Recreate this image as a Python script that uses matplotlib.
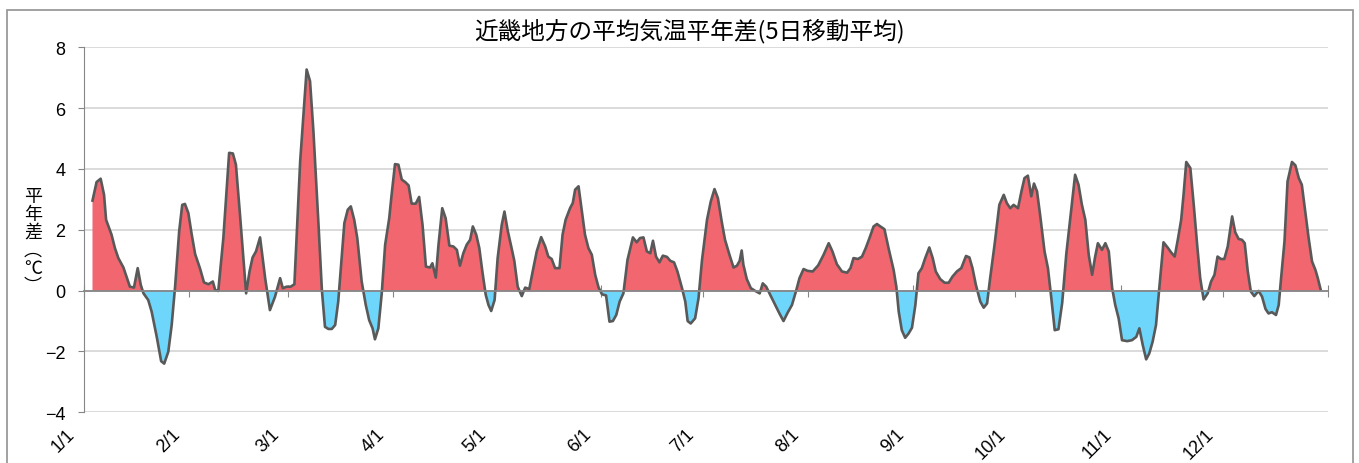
import matplotlib.pyplot as plt
import numpy as np
from matplotlib.patches import Rectangle
from matplotlib.transforms import ScaledTranslation

plt.rcParams['font.family'] = ['Liberation Sans', 'Noto Sans CJK JP', 'DejaVu Sans']

# 5-day running mean of the temperature anomaly, Kinki region (leap year)
# day = day-of-year index (0 = 1/1), anomaly in degC
day = [
    2.0, 3.2, 4.4, 5.4, 6.0, 7.6, 8.6, 9.6, 11.1, 13.0, 14.2, 15.3, 16.2, 17.0,
    18.4, 19.4, 20.9, 22.2, 23.1, 24.3, 25.3, 26.3, 27.5, 28.4, 29.2, 30.2,
    31.2, 32.2, 33.6, 34.8, 36.1, 37.4, 38.1, 39.0, 40.5, 42.2, 43.3, 44.2,
    45.4, 47.2, 48.2, 49.1, 50.1, 51.3, 52.8, 54.2, 55.7, 57.2, 58.0, 59.1,
    60.3, 61.4, 63.1, 65.0, 66.0, 67.0, 68.5, 69.5, 70.4, 71.4, 72.4, 73.4,
    74.3, 75.3, 76.1, 77.1, 78.0, 79.0, 79.9, 81.2, 82.4, 83.4, 84.4, 85.1,
    86.1, 87.1, 88.1, 89.3, 90.0, 91.0, 92.0, 93.0, 94.0, 95.0, 95.9, 97.1,
    98.1, 99.1, 100.1, 101.3, 102.0, 103.0, 103.8, 104.9, 105.9, 107.0, 108.2,
    109.2, 110.1, 111.1, 112.1, 113.1, 113.9, 114.9, 115.8, 116.7, 117.7,
    118.5, 119.3, 120.3, 121.2, 122.4, 123.2, 124.2, 125.2, 126.1, 127.1,
    128.3, 129.3, 130.5, 131.4, 132.7, 134.0, 135.2, 136.1, 137.1, 138.1,
    139.4, 140.3, 141.2, 142.5, 143.3, 144.0, 145.0, 146.0, 146.9, 147.9,
    148.9, 149.9, 150.9, 151.9, 153.1, 154.1, 155.1, 156.1, 157.1, 158.2,
    159.4, 161.0, 162.1, 163.1, 164.1, 165.1, 166.1, 166.9, 167.8, 168.8,
    169.8, 171.0, 172.0, 173.1, 174.1, 175.4, 176.4, 177.1, 178.0, 179.3,
    180.3, 181.3, 182.8, 183.9, 185.0, 186.0, 187.2, 188.1, 189.4, 190.6,
    191.6, 192.4, 193.0, 193.5, 194.5, 195.7, 197.0, 198.3, 199.2, 200.2,
    201.4, 202.9, 204.1, 205.3, 206.5, 207.8, 209.0, 210.0, 211.2, 212.4,
    213.9, 215.5, 217.1, 218.6, 219.7, 221.0, 222.5, 224.0, 225.0, 225.9,
    227.2, 228.4, 229.5, 230.6, 231.8, 232.8, 233.8, 235.0, 236.2, 237.7,
    238.5, 239.2, 240.1, 241.1, 242.1, 243.1, 244.1, 245.0, 246.0, 247.0,
    248.2, 249.2, 250.1, 251.4, 252.7, 253.9, 255.0, 256.3, 257.6, 259.0,
    260.0, 260.9, 261.9, 263.2, 264.2, 265.2, 266.1, 267.4, 268.8, 270.1,
    271.0, 272.0, 273.0, 274.3, 275.3, 276.2, 277.2, 278.2, 279.0, 279.9,
    280.8, 282.1, 283.1, 284.1, 285.1, 286.2, 287.3, 288.5, 289.9, 291.1,
    292.1, 293.1, 294.1, 295.1, 296.1, 297.0, 297.8, 299.0, 300.0, 301.0,
    302.0, 302.9, 303.9, 304.9, 306.4, 307.8, 309.1, 310.0, 311.0, 312.0,
    312.9, 313.9, 314.9, 315.9, 317.1, 318.3, 319.4, 320.4, 321.4, 322.3,
    323.0, 323.8, 325.0, 326.0, 327.0, 327.9, 328.9, 330.1, 331.1, 332.1,
    333.0, 334.0, 335.0, 336.0, 337.3, 338.2, 339.2, 340.2, 341.0, 341.9,
    342.8, 343.8, 345.1, 346.1, 347.1, 348.0, 349.0, 350.2, 351.0, 351.7,
    352.7, 353.6, 354.9, 355.9, 356.9, 357.8, 358.8, 359.8, 360.8, 361.8,
    362.5, 363.3,
]
anomaly = [
    2.96, 3.57, 3.68, 3.15, 2.33, 1.84, 1.40, 1.07, 0.76, 0.13, 0.10, 0.74, 0.19, -0.09,
    -0.31, -0.69, -1.52, -2.32, -2.40, -2.01, -1.13, 0.13, 1.95, 2.82, 2.85, 2.55,
    1.84, 1.20, 0.74, 0.27, 0.21, 0.30, 0.02, -0.01, 1.73, 4.53, 4.51, 4.14,
    2.49, -0.09, 0.63, 1.09, 1.29, 1.75, 0.41, -0.64, -0.20, 0.41, 0.08, 0.13,
    0.13, 0.21, 4.25, 7.27, 6.89, 5.24, 2.16, 0.00, -1.19, -1.26, -1.26, -1.13,
    -0.36, 1.07, 2.22, 2.66, 2.77, 2.33, 1.73, 0.30, -0.47, -0.97, -1.24, -1.60,
    -1.24, -0.09, 1.51, 2.38, 3.15, 4.16, 4.14, 3.65, 3.57, 3.46, 2.86, 2.86,
    3.08, 2.16, 0.79, 0.76, 0.90, 0.43, 1.51, 2.71, 2.38, 1.48, 1.45,
    1.34, 0.82, 1.23, 1.51, 1.67, 2.11, 1.84, 1.40, 0.63, -0.14,
    -0.47, -0.67, -0.31, 1.07, 2.16, 2.60, 1.95, 1.45, 0.98, 0.13,
    -0.18, 0.10, 0.05, 0.57, 1.29, 1.76, 1.45, 1.12, 1.04, 0.74,
    0.74, 1.84, 2.33, 2.71, 2.88, 3.32, 3.43, 2.60, 1.84, 1.40,
    1.18, 0.52, 0.10, -0.12, -0.16, -1.02, -1.00, -0.80, -0.36, -0.09,
    1.01, 1.75, 1.59, 1.73, 1.75, 1.29, 1.23, 1.64, 1.12, 0.93,
    1.15, 1.11, 0.98, 0.93, 0.63, 0.10, -0.36, -1.00, -1.08, -0.91,
    -0.25, 0.98, 2.33, 2.93, 3.34, 3.04, 2.22, 1.67, 1.18, 0.76,
    0.82, 0.98, 1.32, 0.85, 0.38, 0.08, -0.01, -0.09, 0.24, 0.13,
    -0.14, -0.47, -0.75, -1.00, -0.73, -0.47, -0.01, 0.41, 0.71, 0.65,
    0.63, 0.83, 1.18, 1.56, 1.29, 0.87, 0.63, 0.59, 0.74, 1.07,
    1.04, 1.12, 1.40, 1.73, 2.11, 2.19, 2.11, 2.02, 1.40, 0.68,
    0.13, -0.69, -1.30, -1.55, -1.41, -1.22, -0.47, 0.57, 0.74, 1.07,
    1.42, 1.07, 0.63, 0.38, 0.26, 0.26, 0.46, 0.63, 0.74, 1.14,
    1.09, 0.74, 0.19, -0.36, -0.56, -0.42, 0.41, 1.51, 2.82, 3.15,
    2.88, 2.71, 2.82, 2.71, 3.26, 3.70, 3.78, 3.10, 3.52, 3.26,
    2.49, 1.29, 0.74, -0.25, -1.30, -1.27, -0.40, 1.20, 2.60, 3.81,
    3.48, 2.82, 2.33, 1.18, 0.52, 1.12, 1.56, 1.34, 1.56, 1.29,
    0.08, -0.47, -0.91, -1.63, -1.66, -1.63, -1.52, -1.24, -1.79, -2.26,
    -2.07, -1.68, -1.13, 0.13, 1.59, 1.42, 1.25, 1.12, 1.73, 2.33,
    3.15, 4.23, 4.03, 2.82, 1.51, 0.41, -0.29, -0.09, 0.30, 0.52,
    1.12, 1.04, 1.04, 1.45, 2.44, 1.92, 1.70, 1.67, 1.56, 0.63,
    -0.03, -0.18, -0.01, -0.20, -0.60, -0.75, -0.71, -0.80, -0.47, 0.41,
    1.62, 3.59, 4.23, 4.12, 3.70, 3.48, 2.60, 1.73, 0.96, 0.68,
    0.41, 0.05,
]

month_start = [0, 31, 60, 91, 121, 152, 182, 213, 244, 274, 305, 335]
year_end = 366
month_labels = ['1/1', '2/1', '3/1', '4/1', '5/1', '6/1',
                '7/1', '8/1', '9/1', '10/1', '11/1', '12/1']
y_ticks = [-4, -2, 0, 2, 4, 6, 8]

title = '近畿地方の平均気温平年差(5日移動平均)'
ylabel = '平\n年\n差\n︵\n℃\n︶'

W, H = 1359, 464
fig = plt.figure(figsize=(W / 100, H / 100), dpi=100)
ax = fig.add_axes([84 / W, 1 - 413.3 / H, (1328 - 84) / W, (413.3 - 48.3) / H])

# each day sits in the middle of its slot
x = np.array(day) + 0.5
y = np.array(anomaly)
ax.fill_between(x, y, 0, where=y >= 0, interpolate=True, color='#F1666F', lw=0)
ax.fill_between(x, y, 0, where=y <= 0, interpolate=True, color='#6ED5FB', lw=0)
ax.plot(x, y, color='#595959', lw=1.9, solid_joinstyle='round')

ax.set_xlim(0, year_end)
ax.set_ylim(-4, 8)
ax.set_yticks(y_ticks)
ax.grid(axis='y', color='#D4D4D4', lw=1.2)
ax.set_axisbelow(True)

for side in ['top', 'right']:
    ax.spines[side].set_visible(False)
ax.spines['left'].set_color('#868686')
ax.spines['bottom'].set_position(('data', 0))
ax.spines['bottom'].set_color('#868686')
ax.spines['bottom'].set_linewidth(1.3)

ax.set_xticks(month_start + [year_end])
ax.tick_params(axis='x', direction='inout', length=8, color='#868686',
               labelbottom=False)
ax.tick_params(axis='y', direction='out', length=4.5, color='#868686',
               labelsize=13, pad=9)

# month labels sit below the plot, not on the zero line
sec = ax.secondary_xaxis('bottom')
sec.set_xticks(month_start, month_labels)
sec.tick_params(length=0, pad=9, labelsize=13)
sec.spines['bottom'].set_visible(False)
nudge = ScaledTranslation(-4 / 72, 0, fig.dpi_scale_trans)
for lbl in sec.get_xticklabels():
    lbl.set_rotation(45)
    lbl.set_ha('right')
    lbl.set_transform(lbl.get_transform() + nudge)

fig.text(689 / W, 1 - 31 / H, title, ha='center', va='center',
         fontsize=17, family=['Noto Sans CJK JP', 'DejaVu Sans'])
fig.text(33 / W, 1 - 242 / H, ylabel, ha='center', va='center',
         fontsize=13, linespacing=1.0, family=['Noto Sans CJK JP', 'DejaVu Sans'])

# chart frame
fig.add_artist(Rectangle((7 / W, -0.05), (1353 - 7) / W, 1.05 - 10.7 / H,
                         transform=fig.transFigure, fill=False,
                         ec='#9A9A9A', lw=1.3))

fig.savefig('out.png', dpi=100)
